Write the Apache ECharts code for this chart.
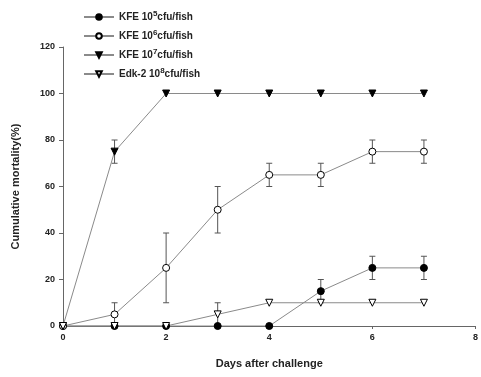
<!DOCTYPE html>
<html>
<head>
<meta charset="utf-8">
<script src="https://cdn.jsdelivr.net/npm/echarts@6/dist/echarts.min.js"></script>
<style>
  html, body { margin: 0; padding: 0; background: #fff; }
  #chart { width: 481px; height: 377px; }
</style>
</head>
<body>
<div id="chart"></div>
<script>
  // days after challenge
  const days = [0, 1, 2, 3, 4, 5, 6, 7];
  // cumulative mortality (%) and error (+/-)
  const kfe5 = [0, 0, 0, 0, 0, 15, 25, 25];
  const kfe5Err = [0, 0, 0, 0, 0, 5, 5, 5];
  const kfe6 = [0, 5, 25, 50, 65, 65, 75, 75];
  const kfe6Err = [0, 5, 15, 10, 5, 5, 5, 5];
  const kfe7 = [0, 75, 100, 100, 100, 100, 100, 100];
  const kfe7Err = [0, 5, 0, 0, 0, 0, 0, 0];
  const edk8 = [0, 0, 0, 5, 10, 10, 10, 10];
  const edk8Err = [0, 0, 0, 5, 0, 0, 0, 0];
  const legendNames = ['KFE 10^5cfu/fish', 'KFE 10^6cfu/fish', 'KFE 10^7cfu/fish', 'Edk-2 10^8cfu/fish'];

  const tri = 'path://M0,0 L10,0 L5,9 Z';
  const lineColor = '#8a8a8a';

  function pts(vals) {
    return days.map((d, i) => [d, vals[i]]);
  }
  function errPts(vals, errs) {
    return days.map((d, i) => [d, vals[i] - errs[i], vals[i] + errs[i]]).filter((p, i) => errs[i] > 0);
  }

  function errorSeries(vals, errs) {
    return {
      type: 'custom',
      silent: true,
      z: 1,
      data: errPts(vals, errs),
      renderItem(params, api) {
        const lo = api.coord([api.value(0), api.value(1)]);
        const hi = api.coord([api.value(0), api.value(2)]);
        const w = 3;
        const st = {stroke: '#555', lineWidth: 1};
        return {
          type: 'group',
          children: [
            {type: 'line', shape: {x1: lo[0], y1: lo[1], x2: hi[0], y2: hi[1]}, style: st},
            {type: 'line', shape: {x1: lo[0] - w, y1: lo[1], x2: lo[0] + w, y2: lo[1]}, style: st},
            {type: 'line', shape: {x1: hi[0] - w, y1: hi[1], x2: hi[0] + w, y2: hi[1]}, style: st}
          ]
        };
      }
    };
  }

  function lineSeries(name, vals, symbol, fill, size) {
    return {
      name,
      type: 'line',
      data: pts(vals),
      symbol,
      symbolSize: size,
      showAllSymbol: true,
      z: 3,
      lineStyle: {color: lineColor, width: 1},
      itemStyle: {color: fill, borderColor: '#000', borderWidth: 1, opacity: 1}
    };
  }

  const myChart = echarts.init(document.getElementById('chart'));
  myChart.setOption({
    animation: false,
    textStyle: {fontFamily: 'Liberation Sans, Arial, sans-serif'},
    grid: {left: 63, right: 3, top: 47, bottom: 51},
    legend: {
      orient: 'vertical',
      left: 78,
      top: 5,
      itemGap: 7,
      itemWidth: 30,
      itemHeight: 7,
      data: legendNames,
      formatter(name) {
        const m = name.match(/^(.*10)\^(\d)(.*)$/);
        return '{b|' + m[1] + '}{s|' + m[2] + '}{b|' + m[3] + '}';
      },
      textStyle: {
        rich: {
          b: {fontSize: 10, fontWeight: 'bold', color: '#222', fontFamily: 'Liberation Sans'},
          s: {fontSize: 8, fontWeight: 'bold', color: '#222', fontFamily: 'Liberation Sans', verticalAlign: 'bottom', padding: [0, 0, 6, 0]}
        }
      }
    },
    xAxis: {
      type: 'value',
      min: 0,
      max: 8,
      interval: 2,
      name: 'Days after challenge',
      nameLocation: 'middle',
      nameGap: 32,
      nameTextStyle: {fontSize: 11, fontWeight: 'bold', color: '#222'},
      axisLine: {lineStyle: {color: '#666'}},
      axisTick: {length: 3, lineStyle: {color: '#666'}},
      axisLabel: {fontSize: 9, fontWeight: 'bold', color: '#222', margin: 7},
      splitLine: {show: false}
    },
    yAxis: {
      type: 'value',
      min: 0,
      max: 120,
      interval: 20,
      name: 'Cumulative mortality(%)',
      nameLocation: 'middle',
      nameGap: 42,
      nameTextStyle: {fontSize: 11, fontWeight: 'bold', color: '#222'},
      axisLine: {show: true, lineStyle: {color: '#666'}},
      axisTick: {show: true, length: 4, lineStyle: {color: '#666'}},
      axisLabel: {fontSize: 9, fontWeight: 'bold', color: '#222', margin: 8},
      splitLine: {show: false}
    },
    series: [
      errorSeries(kfe5, kfe5Err),
      errorSeries(kfe6, kfe6Err),
      errorSeries(kfe7, kfe7Err),
      errorSeries(edk8, edk8Err),
      lineSeries(legendNames[0], kfe5, 'circle', '#000', 7),
      lineSeries(legendNames[1], kfe6, 'circle', '#fff', 7),
      lineSeries(legendNames[2], kfe7, tri, '#000', 7),
      lineSeries(legendNames[3], edk8, tri, '#fff', 7)
    ]
  });
</script>
</body>
</html>
